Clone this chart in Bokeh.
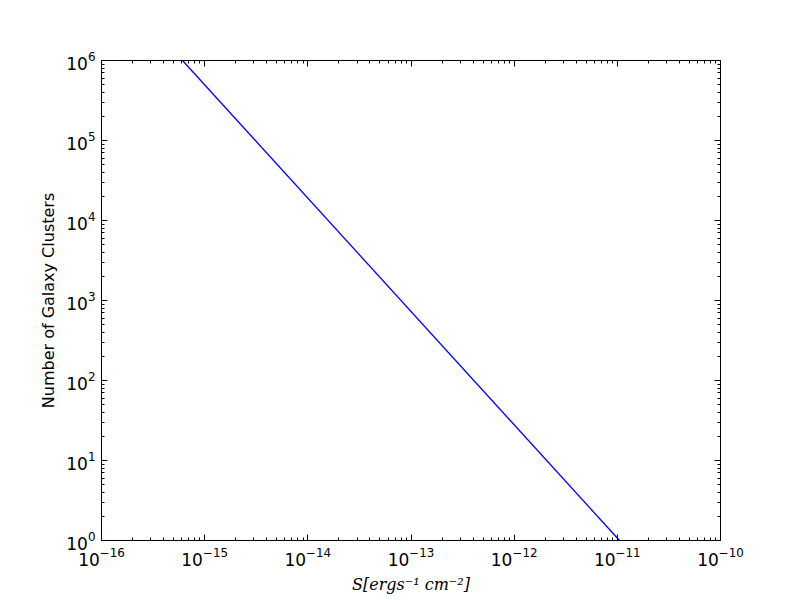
from bokeh.plotting import figure
from bokeh.models import Range1d, LogAxis, LogTicker
from bokeh.embed import file_html
from bokeh.resources import INLINE

# Data: power-law number counts
flux = [6.1e-16, 1.05e-11]
counts = [1.0e6, 1.0]

p = figure(
    x_axis_type="log", y_axis_type="log",
    x_range=Range1d(1e-16, 1e-10), y_range=Range1d(1, 1e6),
    frame_width=619, frame_height=480,
    min_border_left=101, min_border_top=60, min_border_right=60, min_border_bottom=40,
    output_backend="svg", toolbar_location=None,
    background_fill_color="white", border_fill_color="white",
)
p.outline_line_color = "black"
p.outline_line_width = 1
p.outline_line_alpha = 1
p.grid.visible = False

p.line(flux, counts, line_color="#0000ff", line_width=1.3)

def style(ax, labels=True):
    ax.major_tick_in = 6
    ax.major_tick_out = 0
    ax.minor_tick_in = 3
    ax.minor_tick_out = 0
    ax.axis_line_color = "black"
    ax.major_tick_line_color = "black"
    ax.minor_tick_line_color = "black"
    ax.major_label_text_font = "DejaVu Sans"
    ax.major_label_text_font_size = "17px"
    ax.major_label_text_color = "black"
    if not labels:
        ax.major_label_text_font_size = "0px"
        ax.major_label_text_alpha = 0

p.xaxis.ticker = LogTicker(num_minor_ticks=10, desired_num_ticks=7)
p.yaxis.ticker = LogTicker(num_minor_ticks=10, desired_num_ticks=7)
style(p.xaxis[0])
style(p.yaxis[0])
p.xaxis[0].major_label_standoff = 6
p.yaxis[0].major_label_standoff = 6

p.yaxis[0].axis_label = "Number of Galaxy Clusters"
p.yaxis[0].axis_label_text_font = "DejaVu Sans"
p.yaxis[0].axis_label_text_font_size = "16px"
p.yaxis[0].axis_label_text_font_style = "normal"
p.yaxis[0].axis_label_text_color = "black"
p.yaxis[0].axis_label_standoff = 5

p.xaxis[0].axis_label = "S[ergs\u207b\u00b9 cm\u207b\u00b2]"
p.xaxis[0].axis_label_text_font = "DejaVu Serif"
p.xaxis[0].axis_label_text_font_size = "16px"
p.xaxis[0].axis_label_text_font_style = "italic"
p.xaxis[0].axis_label_text_color = "black"
p.xaxis[0].axis_label_standoff = 6

top = LogAxis(ticker=LogTicker(num_minor_ticks=10, desired_num_ticks=7))
right = LogAxis(ticker=LogTicker(num_minor_ticks=10, desired_num_ticks=7))
style(top, labels=False)
style(right, labels=False)
p.add_layout(top, "above")
p.add_layout(right, "right")

open("out.html", "w").write(file_html(p, INLINE))
